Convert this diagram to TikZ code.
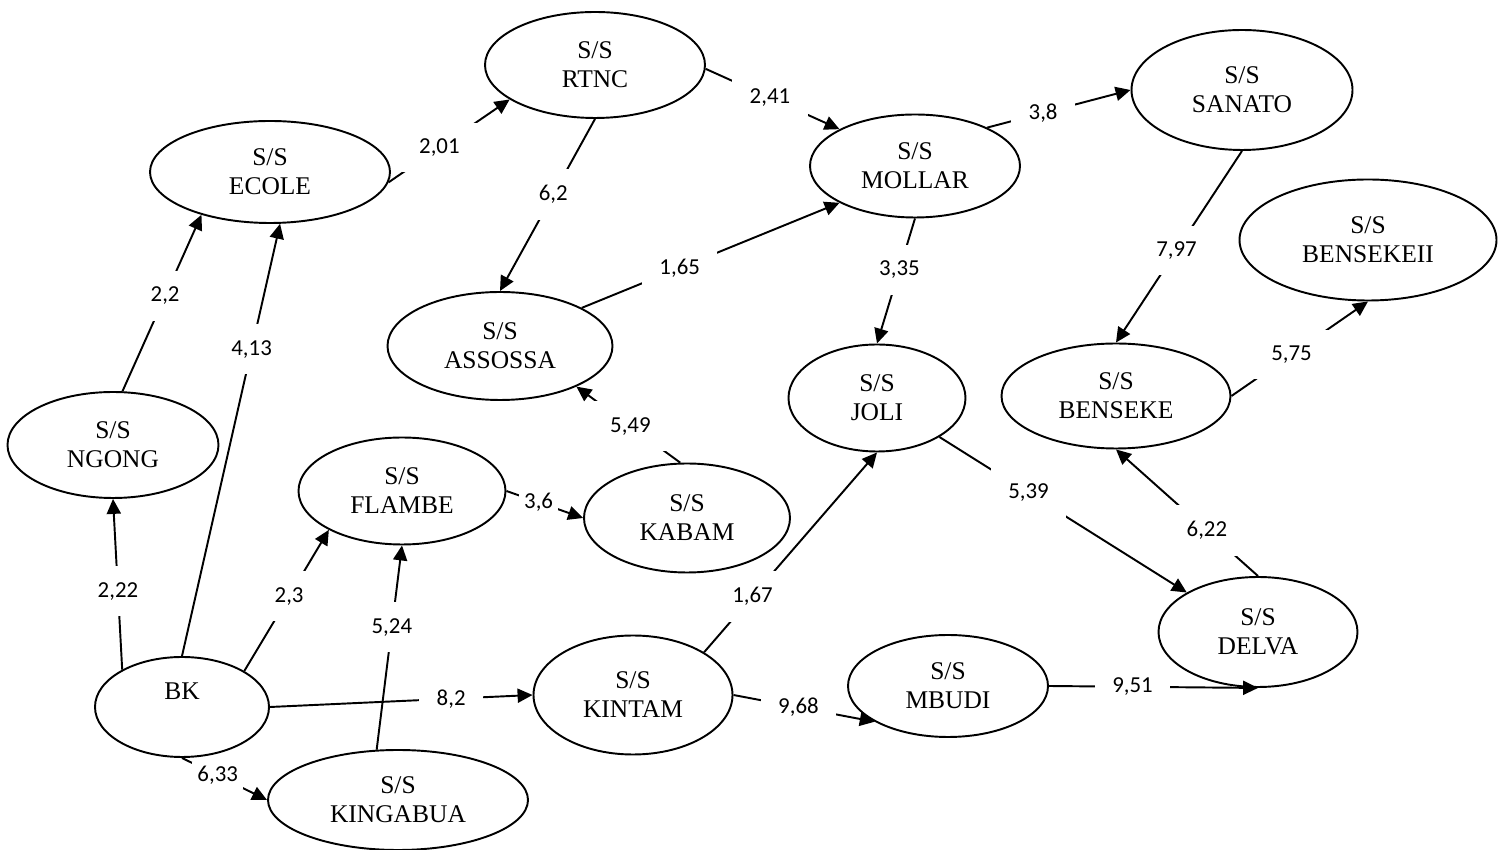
\documentclass[tikz,border=0pt]{standalone}
\usepackage{fontspec}
\setmainfont{Liberation Serif}
\newfontfamily\lblfont{Carlito}
\usepackage{tikz}
\usetikzlibrary{shapes.geometric,arrows.meta,backgrounds}

\begin{document}
\begin{tikzpicture}[
 st/.style={draw,ellipse,line width=1.1pt,inner sep=0pt,align=center,font=\fontsize{14.5}{16.5}\selectfont},
 ar/.style={-{Triangle[length=8.5pt,width=8pt]},line width=1.1pt},
 lb/.style={fill=white,inner xsep=0.35cm,inner ysep=0.32cm,font=\lblfont\fontsize{13}{15}\selectfont},
 lbs/.style={lb,inner xsep=0.1cm,inner ysep=0.08cm}]
\useasboundingbox (0,0) rectangle (30.1,17);
\node[st,minimum width=4.8cm,minimum height=2.04cm] (ecole) at (5.4,13.56) {S/S\\ECOLE};
\node[st,minimum width=4.4cm,minimum height=2.12cm] (rtnc) at (11.9,15.7) {S/S\\RTNC};
\node[st,minimum width=4.2cm,minimum height=2.06cm] (mollar) at (18.3,13.68) {S/S\\MOLLAR};
\node[st,minimum width=4.42cm,minimum height=2.4cm] (sanato) at (24.84,15.2) {S/S\\SANATO};
\node[st,minimum width=5.14cm,minimum height=2.42cm] (bensekeii) at (27.36,12.2) {S/S\\BENSEKEII};
\node[st,minimum width=4.58cm,minimum height=2.1cm] (benseke) at (22.32,9.08) {S/S\\BENSEKE};
\node[st,minimum width=4.5cm,minimum height=2.16cm] (assossa) at (10.0,10.08) {S/S\\ASSOSSA};
\node[st,minimum width=3.54cm,minimum height=2.14cm] (joli) at (17.54,9.04) {S/S\\JOLI};
\node[st,minimum width=4.22cm,minimum height=2.12cm] (ngong) at (2.26,8.1) {S/S\\NGONG};
\node[st,minimum width=4.14cm,minimum height=2.14cm] (flambe) at (8.04,7.18) {S/S\\FLAMBE};
\node[st,minimum width=4.12cm,minimum height=2.18cm] (kabam) at (13.74,6.64) {S/S\\KABAM};
\node[st,minimum width=3.98cm,minimum height=2.38cm] (kintam) at (12.66,3.1) {S/S\\KINTAM};
\node[st,minimum width=4.0cm,minimum height=2.04cm] (mbudi) at (18.96,3.28) {S/S\\MBUDI};
\node[st,minimum width=3.98cm,minimum height=2.2cm] (delva) at (25.16,4.36) {S/S\\DELVA};
\node[st,minimum width=3.48cm,minimum height=2.0cm] (bk) at (3.64,2.86) {BK\\[2pt]};
\node[st,minimum width=5.2cm,minimum height=2.0cm] (kingabua) at (7.96,1.0) {S/S\\KINGABUA};
\begin{scope}[on background layer]
\draw[ar] (ngong.80) -- node[lb,pos=.54] {2,2} (ecole.212);
\draw[ar] (bk.north) -- node[lb,pos=.71] {4,13} (ecole.281);
\draw[ar] (bk.148) -- node[lb,pos=.46] {2,22} (ngong.south);
\draw[ar] (ecole.355) -- node[lb,pos=.42] {2,01} (rtnc.202);
\draw[ar] (rtnc.358) -- node[lb,pos=.48] {2,41} (mollar.154);
\draw[ar] (rtnc.south) -- node[lb,pos=.44] {6,2} (assossa.north);
\draw[ar] (assossa.25) -- node[lb,pos=.38] {1,65} (mollar.206);
\draw[ar] (mollar.28) -- node[lb,pos=.39] {3,8} (sanato.west);
\draw[ar] (mollar.south) -- node[lb,pos=.41] {3,35} (joli.north);
\draw[ar] (sanato.south) -- node[lb,pos=.52] {7,97} (benseke.north);
\draw[ar] (benseke.east) -- node[lb,pos=.44] {5,75} (bensekeii.south);
\draw[ar] (delva.north) -- node[lb,pos=.36] {6,22} (benseke.south);
\draw[ar] (joli.328) -- node[lb,pos=.36] {5,39} (delva.151);
\draw[ar] (kabam.97) -- node[lb,pos=.48] {5,49} (assossa.332);
\draw[ar] (flambe.east) -- node[lbs,pos=.42] {3,6} (kabam.west);
\draw[ar] (bk.30) -- node[lb,pos=.53] {2,3} (flambe.208);
\draw[ar] (kingabua.113) -- node[lb,pos=.6] {5,24} (flambe.south);
\draw[ar] (bk.east) -- node[lb,pos=.69] {8,2} (kintam.west);
\draw[ar] (bk.south) -- node[lbs,pos=.42] {6,33} (kingabua.west);
\draw[ar] (kintam.31) -- node[lb,pos=.28] {1,67} (joli.south);
\draw[ar] (kintam.east) -- node[lb,pos=.46] {9,68} (mbudi.206);
\draw[ar] (mbudi.east) -- node[lb,pos=.4] {9,51} (delva.south);
\end{scope}
\end{tikzpicture}
\end{document}
